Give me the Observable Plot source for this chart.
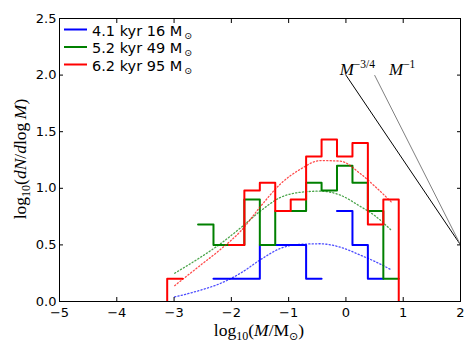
<!DOCTYPE html>
<html><head><meta charset="utf-8">
<script src="https://cdn.jsdelivr.net/npm/d3@7"></script>
<script src="https://cdn.jsdelivr.net/npm/@observablehq/plot@0.6"></script>
<style>
body{margin:0;background:#fff;}
#fig{position:relative;width:474px;height:356px;background:#fff;}
</style></head><body><div id="fig"></div>
<script>
// ---- data ----
const binEdges = [-3.390, -3.120, -2.851, -2.581, -2.312, -2.042, -1.773, -1.503, -1.234, -0.964, -0.695, -0.425, -0.156, 0.114, 0.383, 0.653, 0.922, 1.192];
const OFF = -0.5; // step value that falls below the axis
const seriesNames = ["4.1 kyr 16 M", "5.2 kyr 49 M", "6.2 kyr 95 M"];
const seriesColors = ["#0000ff", "#008000", "#ff0000"];
const blueHist  = [null, null, null, null, 0.20, 0.20, 0.20, 0.50, 0.50, 0.50, 0.20, null, 0.80, 0.50, 0.20, null, null];
const greenHist = [null, null, null, 0.68, 0.50, 0.50, 0.90, 0.50, 0.80, 0.80, 1.05, 0.98, 1.20, 1.05, 0.80, 0.20, null];
const redHist   = [OFF, 0.20, null, null, null, 0.50, 0.98, 1.05, 0.80, 0.90, 1.28, 1.43, 1.28, 1.40, 0.68, 0.90, OFF];
const fitX     = [-2.99, -2.54, -2.19, -1.84, -1.49, -1.14, -0.79, -0.45, -0.10, 0.25, 0.50, 0.79];
const blueFit  = [0.04, 0.10, 0.16, 0.25, 0.37, 0.47, 0.505, 0.51, 0.48, 0.41, 0.355, 0.28];
const greenFit = [0.25, 0.39, 0.51, 0.65, 0.80, 0.92, 0.965, 0.975, 0.94, 0.84, 0.76, 0.63];
const redFit   = [0.14, 0.32, 0.46, 0.62, 0.84, 1.04, 1.17, 1.245, 1.24, 1.13, 1.02, 0.88];
const plLabels = ["−3/4", "−1"];
const plColors = ["#000000", "#808080"];
const plX1 = [0, 0.5], plY1 = [2.0, 2.0], plX2 = [2, 2], plY2 = [0.5, 0.5];
const plLabelX = [-0.10, 0.76];
const xTicks = [-5, -4, -3, -2, -1, 0, 1, 2];
const yTicks = [0, 0.5, 1.0, 1.5, 2.0, 2.5];

function stepPoints(values, s) {
  const pts = [];
  let j = 0;
  while (j < values.length) {
    if (values[j] == null) { j++; continue; }
    let k = j;
    while (k + 1 < values.length && values[k + 1] != null) k++;
    for (let i = j; i <= k; i++) pts.push({x: binEdges[i], y: values[i], s});
    pts.push({x: binEdges[k + 1], y: values[k], s});
    pts.push({x: binEdges[k + 1], y: NaN, s});
    j = k + 1;
  }
  return pts;
}
const hists = [blueHist, greenHist, redHist];
const fits = [blueFit, greenFit, redFit];

const marks = [];
hists.forEach((h, i) => {
  marks.push(Plot.line(stepPoints(h, i), {x: "x", y: "y", stroke: seriesColors[i], strokeWidth: 2, curve: "step-after", clip: true}));
  marks.push(Plot.line(fitX.map((x, k) => ({x, y: fits[i][k]})), {x: "x", y: "y", stroke: seriesColors[i], strokeWidth: 1.3, strokeDasharray: "1.2,2.2", strokeOpacity: 0.7, curve: "monotone-x", clip: true}));
});
marks.push(Plot.link(plLabels.map((l, i) => ({x1: plX1[i], y1: plY1[i], x2: plX2[i], y2: plY2[i], c: plColors[i]})), {x1: "x1", y1: "y1", x2: "x2", y2: "y2", stroke: "c", strokeWidth: 1}));
marks.push(Plot.frame({stroke: "black", strokeWidth: 1}));
const fmt = d => (d < 0 ? "\u2212" + Math.abs(d) : String(d));
marks.push(Plot.axisX(xTicks, {anchor: "bottom", tickSize: -4, tickPadding: 10, tickFormat: fmt, label: null, fontSize: 13}));
marks.push(Plot.axisX(xTicks, {anchor: "top", tickSize: -4, tickFormat: () => "", label: null}));
marks.push(Plot.axisY(yTicks, {anchor: "left", tickSize: -4, tickPadding: 7, tickFormat: d => d.toFixed(1), label: null, fontSize: 13}));
marks.push(Plot.axisY(yTicks, {anchor: "right", tickSize: -4, tickFormat: () => "", label: null}));

const plot = Plot.plot({
  width: 474, height: 356,
  marginLeft: 59, marginRight: 14, marginTop: 18, marginBottom: 55,
  x: {domain: [-5, 2]},
  y: {domain: [0, 2.5]},
  style: {fontFamily: "DejaVu Sans", fontSize: "13px", color: "black", background: "white", overflow: "visible"},
  marks
});
document.getElementById("fig").appendChild(plot);

const xs = plot.scale("x"), ys = plot.scale("y");
const svg = d3.select(plot);
const serif = "Liberation Serif";

// power-law labels
plLabels.forEach((l, i) => {
  const t = svg.append("text").attr("text-anchor", "start").attr("x", xs.apply(plLabelX[i])).attr("y", ys.apply(plY1[i])).attr("font-family", serif).attr("font-size", 17).attr("fill", "black");
  t.append("tspan").attr("font-style", "italic").text("M");
  t.append("tspan").attr("font-size", 11.5).attr("dy", -7).text(l);
});

// x label
{
  const t = svg.append("text").attr("x", 259).attr("y", 336).attr("text-anchor", "middle").attr("font-family", serif).attr("font-size", 17.5).attr("fill", "black");
  t.append("tspan").text("log");
  t.append("tspan").attr("font-size", 12).attr("dy", 4).text("10");
  t.append("tspan").attr("dy", -4).text("(");
  t.append("tspan").attr("font-style", "italic").text("M");
  t.append("tspan").text("/M");
  t.append("tspan").attr("font-size", 11).attr("dy", 4).attr("font-family", "DejaVu Sans").text("\u2299");
  t.append("tspan").attr("dy", -4).text(")");
}
// y label
{
  const t = svg.append("text").attr("transform", "translate(26,159) rotate(-90)").attr("text-anchor", "middle").attr("font-family", serif).attr("font-size", 17.5).attr("fill", "black");
  t.append("tspan").text("log");
  t.append("tspan").attr("font-size", 12).attr("dy", 4).text("10");
  t.append("tspan").attr("dy", -4).text("(");
  t.append("tspan").attr("font-style", "italic").text("dN");
  t.append("tspan").text("/");
  t.append("tspan").attr("font-style", "italic").text("d");
  t.append("tspan").text("log\u2009");
  t.append("tspan").attr("font-style", "italic").text("M");
  t.append("tspan").text(")");
}
// legend
seriesNames.forEach((name, i) => {
  const y = 29.5 + i * 17.5;
  svg.append("line").attr("x1", 64).attr("x2", 87).attr("y1", y).attr("y2", y).attr("stroke", seriesColors[i]).attr("stroke-width", 2);
  const t = svg.append("text").attr("text-anchor", "start").attr("x", 92).attr("y", y + 6).attr("font-family", "DejaVu Sans").attr("font-size", 14.5).attr("fill", "black");
  t.append("tspan").text(name);
  t.append("tspan").attr("font-size", 9.5).attr("dx", 2).attr("dy", 3).text("\u2299");
});
</script></body></html>
